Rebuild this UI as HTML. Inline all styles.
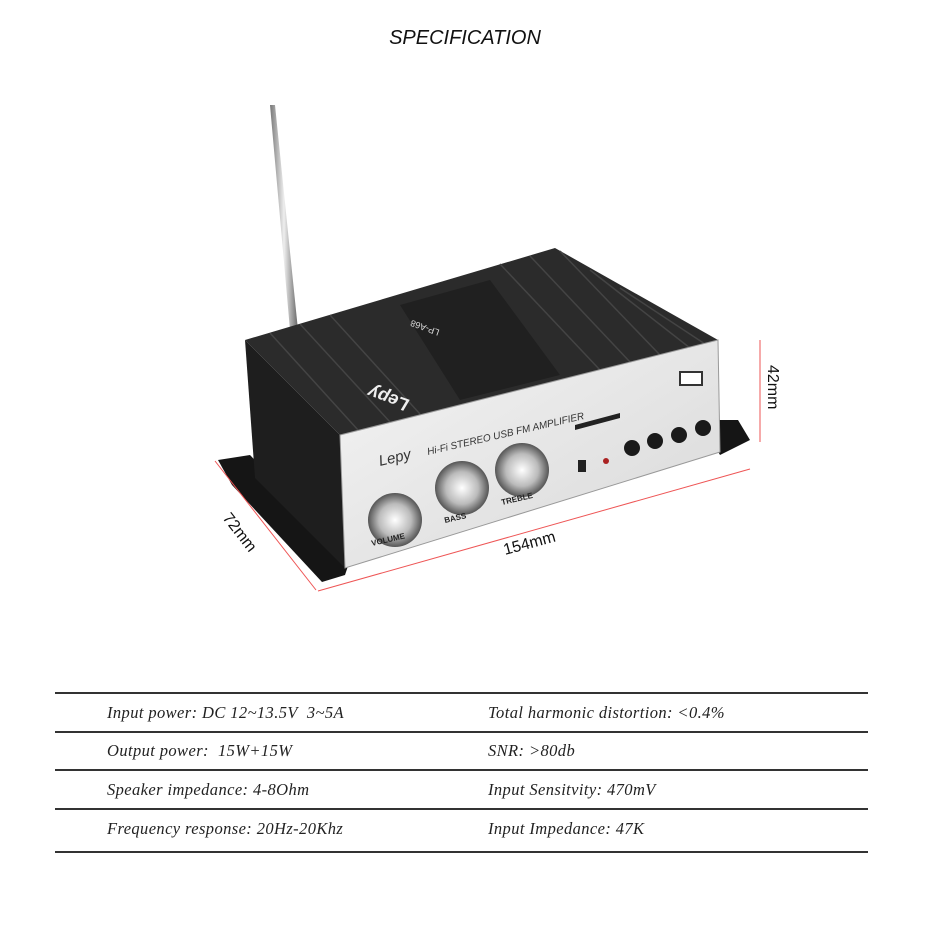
<!DOCTYPE html>
<html><head><meta charset="utf-8"><style>
body{margin:0;background:#fff;width:930px;height:930px;overflow:hidden;position:relative;font-family:"Liberation Serif",serif}
.t{position:absolute;font-style:italic;font-size:16.5px;color:#222;letter-spacing:0.4px}
.l{position:absolute;left:55px;width:813px;height:2px;background:#333}
</style></head><body>
<div style="position:absolute;left:0;width:930px;top:27px;text-align:center;font-family:'Liberation Sans',sans-serif;font-style:italic;font-size:20px;color:#111">SPECIFICATION</div>
<svg width="930" height="680" style="position:absolute;left:0;top:0">
<defs>
<linearGradient id="ant" x1="0" x2="1"><stop offset="0" stop-color="#777"/><stop offset=".5" stop-color="#eee"/><stop offset="1" stop-color="#666"/></linearGradient>
<linearGradient id="sil" x1="0" y1="0" x2="1" y2="1"><stop offset="0" stop-color="#f4f4f4"/><stop offset="1" stop-color="#d8d8d8"/></linearGradient>
<radialGradient id="kn"><stop offset="0" stop-color="#fff"/><stop offset=".6" stop-color="#bbb"/><stop offset="1" stop-color="#555"/></radialGradient>
</defs>
<polygon points="270,105 275,105 298,330 290,330" fill="url(#ant)"/>
<polygon points="218,460 250,455 350,560 345,575 322,582 232,485" fill="#151515"/>
<polygon points="700,420 738,420 750,440 720,455" fill="#151515"/>
<polygon points="245,340 340,435 345,568 255,478" fill="#1e1e1e"/>
<polygon points="245,340 555,248 718,340 340,435" fill="#2b2b2b"/>
<g stroke="#444" stroke-width="1.5">
<line x1="270" y1="333" x2="358" y2="430"/><line x1="300" y1="324" x2="390" y2="422"/>
<line x1="330" y1="315" x2="420" y2="414"/><line x1="500" y1="264" x2="600" y2="370"/>
<line x1="530" y1="256" x2="630" y2="362"/><line x1="560" y1="251" x2="660" y2="355"/>
<line x1="590" y1="270" x2="690" y2="348"/><line x1="620" y1="288" x2="705" y2="344"/>
</g>
<polygon points="400,305 490,280 560,375 460,400" fill="#202020"/>
<text x="440" y="330" fill="#ddd" font-family="Liberation Sans" font-size="9" transform="rotate(200 440 330)">LP-A68</text>
<text x="410" y="400" fill="#eee" font-family="Liberation Sans" font-style="italic" font-weight="bold" font-size="18" transform="rotate(200 410 400)">Lepy</text>
<polygon points="340,435 718,340 720,452 345,568" fill="url(#sil)" stroke="#999"/>
<text x="380" y="466" font-family="Liberation Sans" font-style="italic" font-size="15" fill="#333" transform="rotate(-13 380 466)">Lepy</text>
<text x="428" y="455" font-family="Liberation Sans" font-style="italic" font-size="10" fill="#333" transform="rotate(-13 428 455)">Hi-Fi STEREO USB FM AMPLIFIER</text>
<circle cx="395" cy="520" r="27" fill="url(#kn)"/>
<circle cx="462" cy="488" r="27" fill="url(#kn)"/>
<circle cx="522" cy="470" r="27" fill="url(#kn)"/>
<text x="372" y="546" font-family="Liberation Sans" font-size="8" font-weight="bold" fill="#222" transform="rotate(-13 372 546)">VOLUME</text>
<text x="445" y="523" font-family="Liberation Sans" font-size="8" font-weight="bold" fill="#222" transform="rotate(-13 445 523)">BASS</text>
<text x="502" y="505" font-family="Liberation Sans" font-size="8" font-weight="bold" fill="#222" transform="rotate(-13 502 505)">TREBLE</text>
<polygon points="575,425 620,413 620,418 575,430" fill="#222"/>
<rect x="578" y="460" width="8" height="12" fill="#222"/>
<circle cx="606" cy="461" r="3" fill="#a22"/>
<circle cx="632" cy="448" r="8" fill="#1a1a1a"/><circle cx="655" cy="441" r="8" fill="#1a1a1a"/>
<circle cx="679" cy="435" r="8" fill="#1a1a1a"/><circle cx="703" cy="428" r="8" fill="#1a1a1a"/>
<rect x="680" y="372" width="22" height="13" fill="#fff" stroke="#333" stroke-width="2"/>
<g stroke="#e55" stroke-width="1">
<line x1="215" y1="461" x2="316" y2="590"/>
<line x1="318" y1="591" x2="750" y2="469"/>
<line x1="760" y1="340" x2="760" y2="442"/>
</g>
<text x="505" y="555" font-family="Liberation Sans" font-size="16" fill="#111" transform="rotate(-15 505 555)">154mm</text>
<text x="222" y="518" font-family="Liberation Sans" font-size="16" fill="#111" transform="rotate(52 222 518)">72mm</text>
<text x="768" y="365" font-family="Liberation Sans" font-size="16" fill="#111" transform="rotate(90 768 365)">42mm</text>
</svg>
<div class="l" style="top:692px"></div><div class="l" style="top:731px"></div>
<div class="l" style="top:769px"></div><div class="l" style="top:808px"></div>
<div class="l" style="top:851px"></div>
<div class="t" style="left:107px;top:703px">Input power: DC 12~13.5V&nbsp; 3~5A</div>
<div class="t" style="left:488px;top:703px">Total harmonic distortion: &lt;0.4%</div>
<div class="t" style="left:107px;top:741px">Output power:&nbsp; 15W+15W</div>
<div class="t" style="left:488px;top:741px">SNR: &gt;80db</div>
<div class="t" style="left:107px;top:780px">Speaker impedance: 4-8Ohm</div>
<div class="t" style="left:488px;top:780px">Input Sensitvity: 470mV</div>
<div class="t" style="left:107px;top:819px">Frequency response: 20Hz-20Khz</div>
<div class="t" style="left:488px;top:819px">Input Impedance: 47K</div>
</body></html>
